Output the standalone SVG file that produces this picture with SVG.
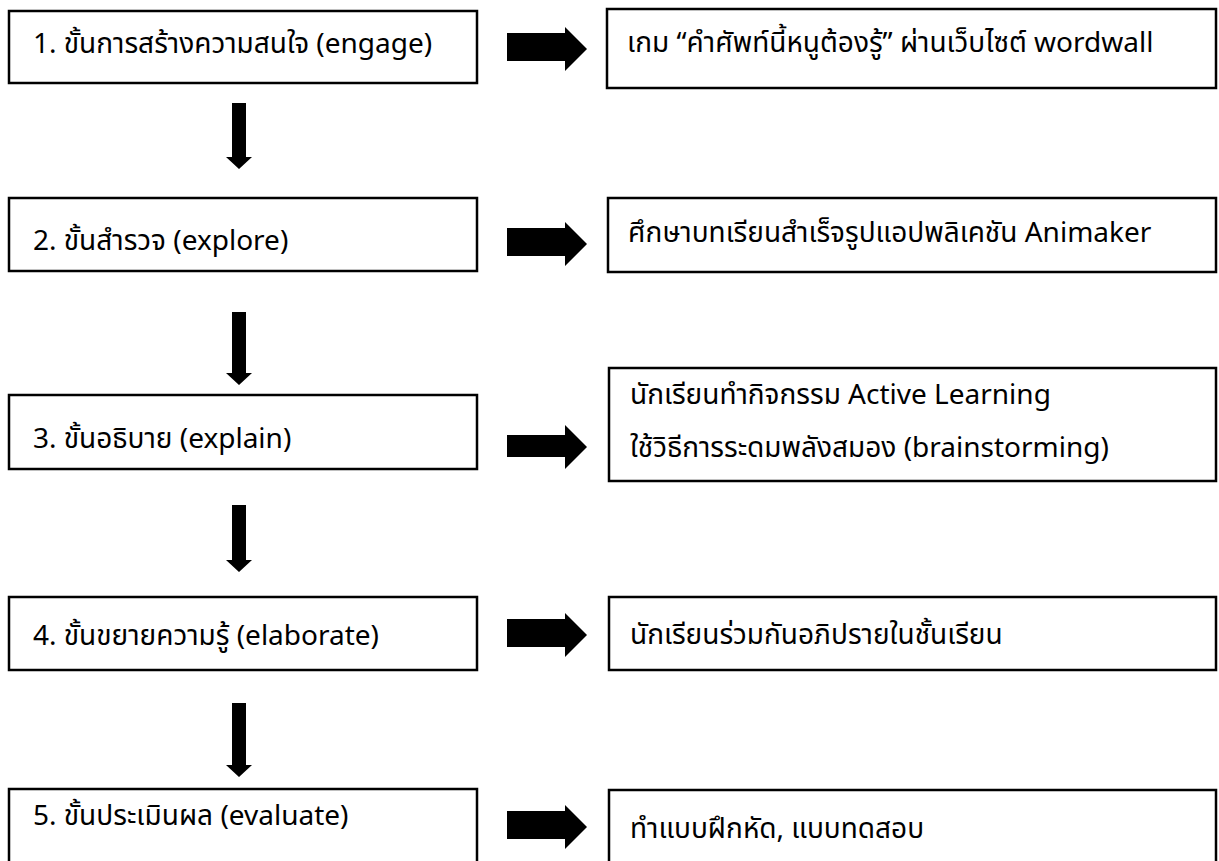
<svg xmlns="http://www.w3.org/2000/svg" width="1219" height="861" viewBox="0 0 1219 861">
<style>
.box{fill:#fff;stroke:#000;stroke-width:2.5}
.t{font-family:"Noto Sans","Noto Sans Thai","Leelawadee UI","DejaVu Sans",sans-serif;font-size:28px;fill:#000}
.ar{fill:#000}
</style>
<rect x="0" y="0" width="1219" height="861" fill="#fff"/>
<g id="step1"><rect class="box" x="9" y="11" width="468" height="72"/><text class="t" x="33" y="53">1. ขั้นการสร้างความสนใจ (engage)</text></g>
<g id="step2"><rect class="box" x="9" y="198" width="468" height="73"/><text class="t" x="33" y="250">2. ขั้นสำรวจ (explore)</text></g>
<g id="step3"><rect class="box" x="9" y="395" width="468" height="74"/><text class="t" x="33" y="448">3. ขั้นอธิบาย (explain)</text></g>
<g id="step4"><rect class="box" x="9" y="597" width="468" height="73"/><text class="t" x="33" y="645">4. ขั้นขยายความรู้ (elaborate)</text></g>
<g id="step5"><rect class="box" x="9" y="789" width="468" height="80"/><text class="t" x="33" y="825">5. ขั้นประเมินผล (evaluate)</text></g>
<g id="act1"><rect class="box" x="607" y="9" width="609" height="79"/><text class="t" x="627" y="52">เกม “คำศัพท์นี้หนูต้องรู้” ผ่านเว็บไซต์ wordwall</text></g>
<g id="act2"><rect class="box" x="608" y="198" width="608" height="74"/><text class="t" x="628" y="242">ศึกษาบทเรียนสำเร็จรูปแอปพลิเคชัน Animaker</text></g>
<g id="act3"><rect class="box" x="609" y="368" width="607" height="113"/><text class="t" x="630" y="404">นักเรียนทำกิจกรรม Active Learning</text><text class="t" x="630" y="457">ใช้วิธีการระดมพลังสมอง (brainstorming)</text></g>
<g id="act4"><rect class="box" x="609" y="597" width="607" height="73"/><text class="t" x="630" y="644">นักเรียนร่วมกันอภิปรายในชั้นเรียน</text></g>
<g id="act5"><rect class="box" x="609" y="790" width="607" height="80"/><text class="t" x="630" y="838">ทำแบบฝึกหัด, แบบทดสอบ</text></g>
<g id="connectors">
<path class="ar" d="M507,33 H565 V27 L587,49 L565,71 V61 H507 Z"/>
<path class="ar" d="M507,228 H565 V222 L587,244 L565,266 V256 H507 Z"/>
<path class="ar" d="M507,435 H565 V425 L587,447 L565,469 V457 H507 Z"/>
<path class="ar" d="M507,619 H565 V613 L587,635 L565,657 V647 H507 Z"/>
<path class="ar" d="M507,811 H565 V805 L587,827 L565,849 V839 H507 Z"/>
<path class="ar" d="M232,103 V157 H226 L239,169 L252,157 H246 V103 Z"/>
<path class="ar" d="M232,312 V373 H226 L239,385 L252,373 H246 V312 Z"/>
<path class="ar" d="M232,505 V560 H226 L239,572 L252,560 H246 V505 Z"/>
<path class="ar" d="M232,703 V765 H226 L239,777 L252,765 H246 V703 Z"/>
</g>
</svg>
